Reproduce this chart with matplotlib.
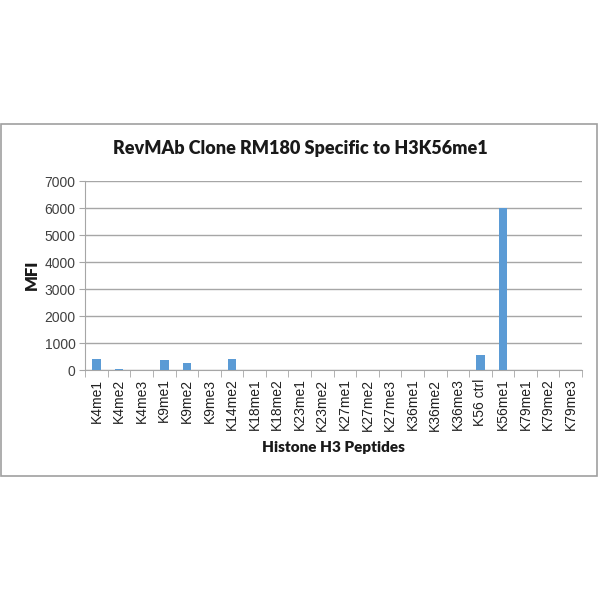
import matplotlib
matplotlib.use('Agg')
import matplotlib.pyplot as plt
from matplotlib.patches import Rectangle
import numpy as np

peptides = ['K4me1', 'K4me2', 'K4me3', 'K9me1', 'K9me2', 'K9me3', 'K14me2',
            'K18me1', 'K18me2', 'K23me1', 'K23me2', 'K27me1', 'K27me2', 'K27me3',
            'K36me1', 'K36me2', 'K36me3', 'K56 ctrl', 'K56me1', 'K79me1',
            'K79me2', 'K79me3']
mfi = [420, 30, 0, 390, 250, 0, 420,
       0, 0, 0, 20, 20, 0, 0,
       0, 0, 0, 560, 6000, 0,
       0, 0]
yticks = [0, 1000, 2000, 3000, 4000, 5000, 6000, 7000]

title = 'RevMAb Clone RM180 Specific to H3K56me1'
xlabel = 'Histone H3 Peptides'
ylabel = 'MFI'

barColor = '#5B9BD5'
gridColor = '#A6A6A6'
headFont = ['Lato', 'DejaVu Sans']
tickFont = ['Liberation Sans', 'DejaVu Sans']

fig = plt.figure(figsize=(6, 6), dpi=100)
fig.patches.append(Rectangle((0.002, 0.207), 0.993, 0.586, transform=fig.transFigure,
                             fill=False, edgecolor='#A0A0A0', linewidth=1.2))

ax = fig.add_axes([0.142, 0.383, 0.828, 0.315])
x = np.arange(len(peptides))
ax.bar(x, mfi, width=0.38, color=barColor, zorder=3)

ax.set_xlim(-0.5, len(peptides) - 0.5)
ax.set_ylim(0, 7000)
ax.set_yticks(yticks)
ax.set_yticklabels([str(t) for t in yticks], family=tickFont, fontsize=10, color='#404040')
ax.set_xticks(x)
ax.set_xticklabels(peptides, rotation=90, family=tickFont, fontsize=10, color='#202020')
ax.tick_params(axis='x', length=0, pad=6)
# category separators below the x axis, like the spreadsheet chart
ax.set_xticks(np.arange(len(peptides) + 1) - 0.5, minor=True)
ax.tick_params(axis='x', which='minor', length=5, color=gridColor, direction='out')
ax.tick_params(axis='y', length=4, color=gridColor, direction='out', pad=3)
ax.yaxis.grid(True, color=gridColor, linewidth=1, zorder=0)

for side in ['top', 'right']:
    ax.spines[side].set_visible(False)
ax.spines['left'].set_color(gridColor)
ax.spines['bottom'].set_color(gridColor)

fig.text(0.5, 0.752, title, ha='center', va='center', family=headFont,
         fontweight='heavy', fontsize=13, color='#1a1a1a')
fig.text(0.556, 0.255, xlabel, ha='center', va='center', family=headFont,
         fontweight='heavy', fontsize=11, color='#1a1a1a')
fig.text(0.053, 0.542, ylabel, ha='center', va='center', rotation=90,
         family=headFont, fontweight='heavy', fontsize=12, color='#1a1a1a')

fig.savefig('out.png', dpi=100)
